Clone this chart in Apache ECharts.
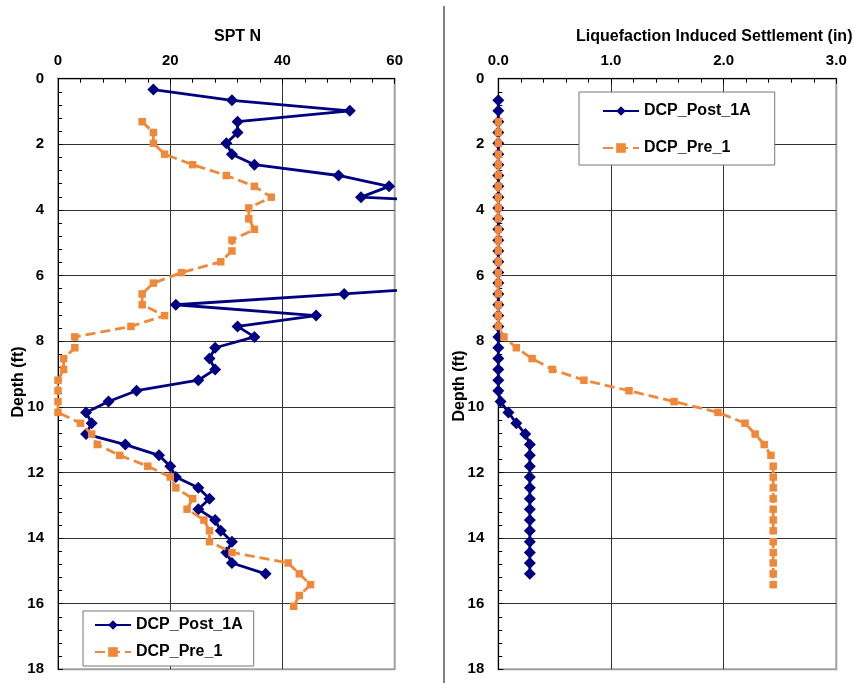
<!DOCTYPE html>
<html>
<head>
<meta charset="utf-8">
<script src="https://cdn.jsdelivr.net/npm/echarts@6/dist/echarts.min.js"></script>
<style>html,body{margin:0;padding:0;background:#fff}#c{width:854px;height:683px}</style>
</head>
<body>
<div id="c"></div>
<script>
// Sampling depths (ft)
const depthFt = [0.33,0.66,0.98,1.31,1.64,1.97,2.30,2.62,2.95,3.28,3.61,3.94,4.27,4.59,4.92,5.25,5.58,5.91,6.23,6.56,6.89,7.22,7.55,7.87,8.20,8.53,8.86,9.19,9.51,9.84,10.17,10.50,10.83,11.15,11.48,11.81,12.14,12.47,12.80,13.12,13.45,13.78,14.11,14.44,14.76,15.09,15.42,15.75,16.08];
// Start index into depthFt for each series
const postSptStart = 0, postSetStart = 1, preStart = 3;
// SPT N values
const postSptN = [17,31,52,32,32,30,31,35,50,59,54,94,100,100,100,100,100,100,80,51,21,46,32,35,28,27,28,25,14,9,5,6,5,12,18,20,21,25,27,25,28,29,31,30,31,37];
const preSptN = [15,17,17,19,24,30,35,38,34,34,35,31,31,29,22,17,15,15,19,13,3,3,1,1,0,0,0,0,4,6,7,11,16,20,21,24,23,26,27,27,31,41,43,45,43,42];
// Liquefaction induced settlement (in)
const postSettle = [0,0,0,0,0,0,0,0,0,0,0,0,0,0,0,0,0,0,0,0,0,0,0,0,0,0,0,0,0.02,0.09,0.16,0.24,0.28,0.28,0.28,0.28,0.28,0.28,0.28,0.28,0.28,0.28,0.28,0.28,0.28];
const preSettle = [0,0,0,0,0,0,0,0,0,0,0,0,0,0,0,0,0,0,0,0,0.05,0.16,0.30,0.48,0.76,1.16,1.56,1.95,2.19,2.28,2.36,2.42,2.44,2.44,2.44,2.44,2.44,2.44,2.44,2.44,2.44,2.44,2.44,2.44];
// Axis ticks
const sptTicks = {min:0, max:60, interval:20};
const setTicks = {min:0, max:3, interval:1};
const depthTicks = {min:0, max:18, interval:2};
const seriesNames = ['DCP_Post_1A','DCP_Pre_1'];

function pairs(vals, start){ return vals.map((v,i)=>[v, depthFt[start+i]]); }

const FONT = "Arial, 'Liberation Sans', sans-serif";
const NAVY = '#000080', ORANGE = '#F0883A';
const lbl = {color:'#000', fontFamily:FONT, fontWeight:'bold', fontSize:15};

function xAx(gi, t, fmt){
  return {gridIndex:gi, type:'value', position:'top', min:t.min, max:t.max, interval:t.interval,
    axisLine:{show:true, lineStyle:{color:'#000', width:1}},
    axisTick:{show:true, inside:true, length:5, lineStyle:{color:'#000'}},
    minorTick:{show:true, splitNumber:5, length:4, lineStyle:{color:'#000'}},
    splitLine:{show:true, showMinLine:false, showMaxLine:false, lineStyle:{color:'#333', width:1}},
    axisLabel:Object.assign({margin:10, formatter:fmt}, lbl)};
}
function yAx(gi){
  return {gridIndex:gi, type:'value', inverse:true, min:depthTicks.min, max:depthTicks.max, interval:depthTicks.interval,
    axisLine:{show:true, lineStyle:{color:'#000', width:1}},
    axisTick:{show:true, inside:true, length:5, lineStyle:{color:'#000'}},
    minorTick:{show:true, splitNumber:5, length:4, lineStyle:{color:'#000'}},
    splitLine:{show:true, showMinLine:false, showMaxLine:false, lineStyle:{color:'#333', width:1}},
    axisLabel:Object.assign({margin:14}, lbl)};
}
function postSeries(xi, data){
  return {name:seriesNames[0], type:'line', xAxisIndex:xi, yAxisIndex:xi, data:data, clip:true,
    symbol:'diamond', symbolSize:[12,12], lineStyle:{color:NAVY, width:2.8}, itemStyle:{color:NAVY}, z:3};
}
function preSeries(xi, data){
  return {name:seriesNames[1], type:'line', xAxisIndex:xi, yAxisIndex:xi, data:data, clip:true,
    symbol:'rect', symbolSize:7.5, lineStyle:{color:ORANGE, width:2.8, type:[10,5]}, itemStyle:{color:ORANGE}, z:4};
}

const chart = echarts.init(document.getElementById('c'), null, {renderer:'canvas'});
chart.setOption({
  animation:false,
  backgroundColor:'#fff',
  title:[
    {text:'SPT N', left:209, top:24, textStyle:{color:'#000', fontFamily:FONT, fontWeight:'bold', fontSize:16}},
    {text:'Liquefaction Induced Settlement (in)', left:571, top:24, textStyle:{color:'#000', fontFamily:FONT, fontWeight:'bold', fontSize:16}}
  ],
  grid:[
    {left:58, top:78.7, width:336.7, height:590.6, show:true, borderColor:'#a0a0a0', borderWidth:2, backgroundColor:'#fff'},
    {left:498.3, top:78.7, width:338, height:590.6, show:true, borderColor:'#a0a0a0', borderWidth:2, backgroundColor:'#fff'}
  ],
  xAxis:[ xAx(0, sptTicks), xAx(1, setTicks, v=>v.toFixed(1)) ],
  yAxis:[ yAx(0), yAx(1) ],
  legend:[
    {data:seriesNames, orient:'vertical', left:83, top:611, padding:[6,11,6,11], itemGap:11,
     itemWidth:36, itemHeight:12, backgroundColor:'#fff', borderColor:'#777', borderWidth:1, selectedMode:false,
     textStyle:{color:'#000', fontFamily:FONT, fontWeight:'bold', fontSize:16, lineHeight:16}},
    {data:seriesNames, orient:'vertical', left:579, top:92, padding:[11,24,9,23], itemGap:21,
     itemWidth:36, itemHeight:12, backgroundColor:'#fff', borderColor:'#777', borderWidth:1, selectedMode:false,
     textStyle:{color:'#000', fontFamily:FONT, fontWeight:'bold', fontSize:16, lineHeight:16}}
  ],
  graphic:[
    {type:'text', x:19, y:382, rotation:Math.PI/2, style:{text:'Depth (ft)', fill:'#000', font:"bold 16px Arial, 'Liberation Sans', sans-serif", align:'center', verticalAlign:'middle'}},
    {type:'text', x:460, y:386, rotation:Math.PI/2, style:{text:'Depth (ft)', fill:'#000', font:"bold 16px Arial, 'Liberation Sans', sans-serif", align:'center', verticalAlign:'middle'}},
    {type:'line', shape:{x1:444, y1:6, x2:444, y2:683}, style:{stroke:'#808080', lineWidth:2}}
  ],
  series:[
    postSeries(0, pairs(postSptN, postSptStart)),
    preSeries(0, pairs(preSptN, preStart)),
    postSeries(1, pairs(postSettle, postSetStart)),
    preSeries(1, pairs(preSettle, preStart))
  ]
});
</script>
</body>
</html>
